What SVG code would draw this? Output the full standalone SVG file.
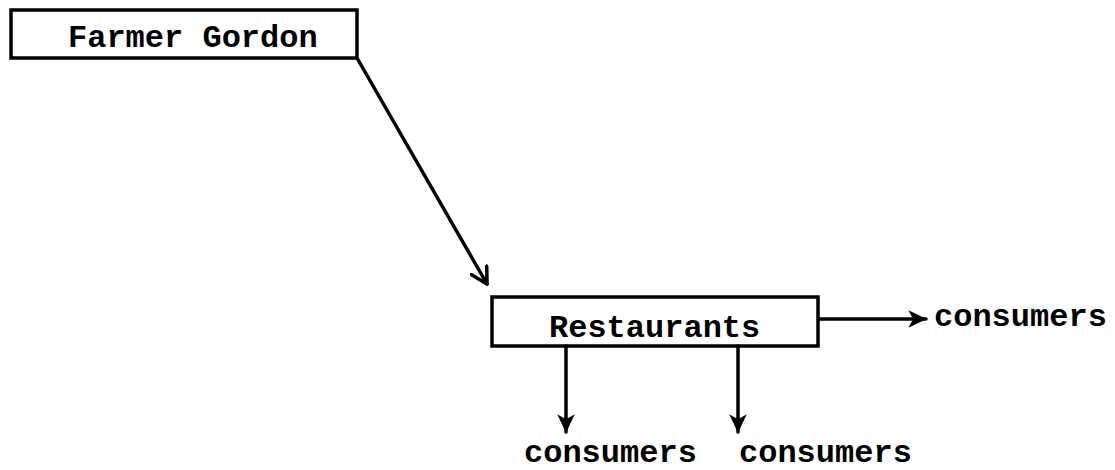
<svg xmlns="http://www.w3.org/2000/svg" width="1115" height="470" viewBox="0 0 1115 470">
  <style>
    .box { fill: #ffffff; stroke: #000; stroke-width: 3.5; }
    .lbl { font-family: "Liberation Mono", "Courier New", monospace; font-weight: bold; font-size: 32px; fill: #000; }
    .edge { fill: none; stroke: #000; stroke-width: 3.5; stroke-linecap: round; }
  </style>
  <defs>
    <marker id="openHead" viewBox="0 0 12 12" refX="10" refY="6" markerWidth="6" markerHeight="6" markerUnits="strokeWidth" orient="auto">
      <path d="M1,1 L10,6 L1,11" fill="none" stroke="#000" stroke-width="2" stroke-linecap="round" stroke-linejoin="round"/>
    </marker>
    <marker id="solidHead" viewBox="0 0 12 12" refX="11" refY="6" markerWidth="5.5" markerHeight="5.5" markerUnits="strokeWidth" orient="auto">
      <path d="M0,0.5 L11.5,6 L0,11.5 L3,6 Z" fill="#000"/>
    </marker>
  </defs>
  <rect width="1115" height="470" fill="#ffffff"/>

  <g id="farmer-gordon">
    <rect class="box" x="11" y="10" width="346" height="48"/>
    <text class="lbl" x="68" y="47">Farmer Gordon</text>
  </g>

  <g id="restaurants">
    <rect class="box" x="492" y="297" width="326" height="49"/>
    <text class="lbl" x="549" y="337">Restaurants</text>
  </g>

  <g id="consumers-right">
    <text class="lbl" x="934" y="326">consumers</text>
  </g>
  <g id="consumers-left">
    <text class="lbl" x="524" y="462">consumers</text>
  </g>
  <g id="consumers-middle">
    <text class="lbl" x="739" y="462">consumers</text>
  </g>

  <g id="connectors">
    <path class="edge" d="M357,58 L487,284" marker-end="url(#openHead)"/>
    <path class="edge" d="M819,319 L926,319" marker-end="url(#solidHead)"/>
    <path class="edge" d="M566,346 L566,432" marker-end="url(#solidHead)"/>
    <path class="edge" d="M738,346 L738,432" marker-end="url(#solidHead)"/>
  </g>
</svg>
